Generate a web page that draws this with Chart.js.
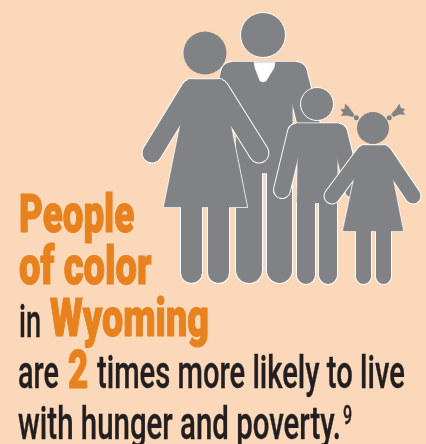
<!doctype html>
<html lang="en">
  <head>
    <title>People of color in Wyoming</title>
    <script src="https://cdn.jsdelivr.net/npm/chart.js"></script>
    <style>
      html, body { margin: 0; padding: 0; background: #fbd8ba; }
      #wrap { position: relative; width: 426px; height: 444px; overflow: hidden; }
      #family { position: absolute; left: 0; top: 0; }
      .t {
        position: absolute; white-space: nowrap; line-height: 1;
        font-family: Roboto, sans-serif; transform-origin: 0 0;
      }
      .dark { color: #231f20; font-weight: 500; font-size: 47px; -webkit-text-stroke: 0.4px #231f20; }
      .big { color: #e8821e; font-weight: 900; font-size: 54px; -webkit-text-stroke: 1.2px #e8821e; }
    </style>
  </head>
  <body>
    <div id="wrap">
      <canvas id="family" width="426" height="444"></canvas>
      <span class="t big" data-w="115" style="left:19px;top:187px">People</span>
      <span class="t big" data-w="132" style="left:19px;top:239px">of color</span>
      <span class="t dark" data-w="22" style="left:19px;top:297px">in</span>
      <span class="t big" data-w="159" style="left:50px;top:291px">Wyoming</span>
      <span class="t dark" data-w="41" style="left:18px;top:348px">are</span>
      <span class="t big" data-w="20" style="left:68px;top:343px">2</span>
      <span class="t dark" data-w="308" style="left:97px;top:348px">times more likely to live</span>
      <span class="t dark" data-w="323" style="left:18px;top:399px">with hunger and poverty.</span>
      <span class="t dark" data-w="9" style="left:343px;top:403px;font-size:25px">9</span>
    </div>

    <script>
      // outlines, x/y in picture units
      const motherHead = [[205, 53]];
      const motherBody = [[188, 79.5], [222, 79.5], [229, 117], [247, 207], [164, 207], [182, 117]];
      const motherArmL = [[191, 89], [152, 153]];
      const motherArmR = [[219, 89], [259, 153]];
      const motherLegL = [[191.5, 205], [191.5, 272.5]];
      const motherLegR = [[218.5, 205], [218.5, 272.5]];

      const fatherHead = [[263, 35]];
      const fatherBody = [[232, 62], [296, 62], [292, 97], [292, 173], [236, 173], [236, 97]];
      const fatherArmL = [[232, 73], [208, 170]];
      const fatherArmR = [[296, 73], [320, 170]];
      const fatherLegL = [[249, 170], [249, 270]];
      const fatherLegR = [[279.5, 170], [279.5, 270.5]];
      const fatherTie = [[254, 62.5], [275, 62.5], [274, 68], [266, 81], [263, 82], [260, 81], [255, 68]];

      const boyHead = [[317, 104]];
      const boyBody = [[296, 123.5], [339, 123.5], [337, 148], [337, 203], [297, 203], [298, 148]];
      const boyArmL = [[296, 132], [282, 190]];
      const boyArmR = [[339, 132], [353, 190]];
      const boyLegL = [[306, 200], [306, 275]];
      const boyLegR = [[328, 200], [328, 275]];

      const girlHead = [[373, 128]];
      const girlBody = [[362, 145.5], [386, 145.5], [391, 170], [403, 231], [343, 231], [356, 170]];
      const girlArmL = [[364, 153], [332, 196]];
      const girlArmR = [[384, 153], [413, 196]];
      const girlLegL = [[363.5, 228], [363.5, 276.5]];
      const girlLegR = [[383.5, 228], [383.5, 276.5]];
      const girlTuftL = [[340.7, 109.3], [344.7, 109.3], [345.3, 104], [348.7, 107.3], [354.3, 115], [352.7, 116.7], [346.7, 115.3], [341.3, 115.7], [343.3, 112.7]];
      const girlTuftR = [[405, 109.3], [400.7, 108.3], [399.3, 104], [396.7, 108.3], [391.3, 114.3], [393.3, 116.7], [399.3, 114.3], [405, 114.3], [402.7, 111.7]];
      const girlKnots = [[356.3, 117.7], [389.3, 117.7]];

      const GREY = '#808285';
      const WHITE = '#ffffff';
      const EDGE = 2; // white edge, counted on both sides of a limb

      const datasets = [];
      const toXY = pts => pts.map(p => ({ x: p[0], y: p[1] }));

      // later pushes must paint on top, chart.js paints the lowest order last
      function push(ds) {
        ds.order = -datasets.length;
        datasets.push(ds);
      }
      function polygon(pts, color, edge) {
        push({
          data: toXY([...pts, pts[0]]), showLine: true, fill: 'shape', backgroundColor: color,
          borderColor: edge ? WHITE : color, borderWidth: edge || 0.5, borderJoinStyle: 'round',
          pointRadius: 0, tension: 0
        });
      }
      function limb(pts, width, color) {
        push({
          data: toXY(pts), showLine: true, fill: false, borderColor: color, borderWidth: width,
          borderCapStyle: 'round', pointRadius: 0, tension: 0
        });
      }
      function dots(pts, radius, edge) {
        push({
          data: toXY(pts), showLine: false, pointRadius: radius, pointBackgroundColor: GREY,
          pointBorderColor: edge ? WHITE : GREY, pointBorderWidth: edge
        });
      }
      // white silhouette first, grey on top, so limbs merge into the body
      function person(body, limbs, widths) {
        limbs.forEach((l, i) => limb(l, widths[i] + EDGE, WHITE));
        polygon(body, WHITE, EDGE);
        limbs.forEach((l, i) => limb(l, widths[i], GREY));
        polygon(body, GREY, 0);
      }

      person(fatherBody, [fatherArmL, fatherArmR, fatherLegL, fatherLegR], [22, 22, 26, 25]);
      polygon(fatherTie, WHITE, 0);
      dots(fatherHead, 22.5, 1);
      person(motherBody, [motherArmL, motherArmR, motherLegL, motherLegR], [19, 19, 21, 21]);
      dots(motherHead, 21.5, 0);
      person(boyBody, [boyArmL, boyArmR, boyLegL, boyLegR], [16, 16, 18, 18]);
      dots(boyHead, 16.5, 1);
      person(girlBody, [girlArmL, girlArmR, girlLegL, girlLegR], [15, 15, 15, 15]);
      polygon(girlTuftL, GREY, 0);
      polygon(girlTuftR, GREY, 0);
      dots(girlKnots, 2.5, 0);
      dots(girlHead, 16, 0);

      new Chart(document.getElementById('family').getContext('2d'), {
        type: 'scatter',
        data: { datasets },
        options: {
          responsive: false,
          animation: false,
          layout: { padding: 0, autoPadding: false },
          plugins: { legend: { display: false }, tooltip: { enabled: false } },
          scales: {
            x: { display: false, min: 0, max: 426 },
            y: { display: false, min: 0, max: 444, reverse: true }
          }
        }
      });

      // the original face is condensed, squeeze each run to its measured width
      document.querySelectorAll('.t').forEach(el => {
        el.style.transform = 'scaleX(' + (el.dataset.w / el.offsetWidth) + ')';
      });
    </script>
  </body>
</html>
